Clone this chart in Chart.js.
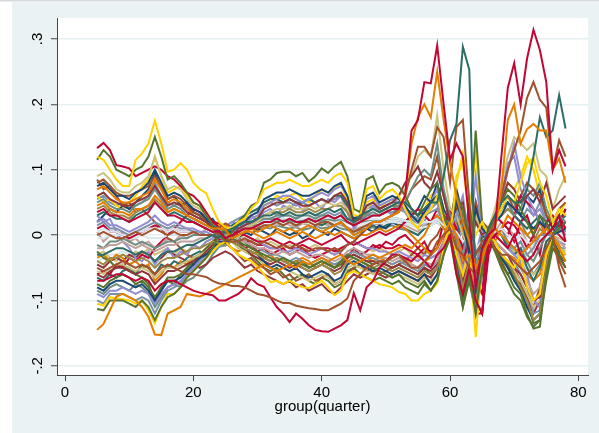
<!DOCTYPE html>
<html><head><meta charset="utf-8">
<script src="https://cdn.jsdelivr.net/npm/chart.js@4.4.0/dist/chart.umd.min.js"></script>
<style>html,body{margin:0;padding:0;background:#fff;overflow:hidden}#wrap{width:599px;height:433px}</style>
</head><body><div id="wrap"><canvas id="c" width="599" height="433"></canvas></div>
<script>
const quarters = [5,6,7,8,9,10,11,12,13,14,15,16,17,18,19,20,21,22,23,24,25,26,27,28,29,30,31,32,33,34,35,36,37,38,39,40,41,42,43,44,45,46,47,48,49,50,51,52,53,54,55,56,57,58,59,60,61,62,63,64,65,66,67,68,69,70,71,72,73,74,75,76,77,78];
const xTickValues = [0,20,40,60,80];
const yTickValues = [-.2,-.1,0,.1,.2,.3];
const yTickLabels = ['-.2','-.1','0','.1','.2','.3'];
const xTitle = 'group(quarter)';

const s01 = [.035,.04,.03,.03,.025,.02,.025,.03,.035,.05, .04,.03,.03,.025,.02,.02,.015,.01,.005,.006, -.005,0,.005,.01,.01,.015,.02,.02,.025,.02, .025,.02,.02,.025,.02,.025,.03,.025,.03,.02, .015,.02,.025,.03,.03,.035,.04,.04,.06,.16, .176,.234,.232,.29,.2,.115,.14,.12,.02,-.08, -.02,0,.01,.12,.225,.263,.2,.27,.314,.283, .234,.1,.13,.105];
const s02 = [.045,.05,.04,.035,.035,.03,.04,.04,.045,.06, .05,.035,.04,.035,.03,.025,.02,.015,.01,.01, .008,-.005,0,.005,.01,.005,.01,.015,.01,.005, .01,.005,.01,.015,.01,.005,.01,.015,.02,.01, 0,.005,.01,.02,.02,.025,.03,.035,.06,.14, .18,.2,.18,.25,.176,.11,.06,.02,-.01,-.05, -.03,-.01,.01,.07,.176,.2,.14,.162,.17,.16, .16,.1,.117,.08];
const s03 = [-.03,-.03,-.025,-.02,-.02,-.025,-.03,-.025,-.03,-.04, -.03,-.025,-.025,-.02,-.015,-.015,-.01,-.005,0,-.004, .005,.01,.015,.02,.02,.025,.03,.03,.035,.03, .035,.03,.03,.035,.03,.035,.04,.035,.04,.025, .02,.03,.035,.04,.035,.04,.045,.05,.05,.04, .03,.04,.05,.05,.09,.145,.17,.288,.253,-.09, -.02,.01,.03,.05,.06,.05,.05,.07,.12,.18, .15,.16,.214,.163];
const s04 = [0,.005,0,-.005,-.005,0,.005,0,.005,.01, .005,0,.005,0,0,.005,0,0,0,.004, -.005,-.01,-.01,-.005,-.01,-.015,-.01,-.015,-.02,-.015, -.02,-.015,-.02,-.025,-.02,-.02,-.025,-.02,-.025,-.015, -.01,0,.01,.02,.02,.025,.03,.04,.06,.1, .135,.135,.12,.165,.15,.08,.165,.176,.05,-.03, -.01,0,.02,.06,.1,.13,.16,.21,.234,.207, .195,.1,.145,.12];
const s05 = [-.05,-.055,-.05,-.045,-.04,-.045,-.05,-.045,-.05,-.06, -.05,-.045,-.05,-.055,-.06,-.06,-.062,-.064,-.07,-.074, -.075,-.078,-.078,-.08,-.085,-.09,-.092,-.095,-.1,-.104, -.104,-.108,-.11,-.112,-.113,-.115,-.115,-.11,-.105,-.097, -.07,-.06,-.05,-.045,-.04,-.04,-.035,-.03,-.04,-.05, -.05,-.04,-.03,-.01,0,.01,-.02,-.03,-.05,-.06, -.03,0,-.02,-.03,-.03,-.04,-.05,-.06,-.05,-.04, -.02,0,-.05,-.08];
const s06 = [-.07,-.07,-.065,-.06,-.06,-.065,-.07,-.065,-.07,-.085, -.075,-.07,-.07,-.075,-.08,-.085,-.088,-.09,-.092,-.1, -.1,-.095,-.09,-.081,-.066,-.075,-.079,-.095,-.11,-.12, -.133,-.12,-.128,-.138,-.145,-.147,-.148,-.143,-.138,-.13, -.089,-.115,-.08,-.07,-.05,-.04,-.03,-.03,-.035,-.04, -.03,-.04,-.05,-.03,-.02,0,-.06,-.09,-.05,-.1, -.12,-.01,0,-.01,-.02,0,-.03,-.04,-.03,-.01, 0,.01,.03,-.01];
const s07 = [-.145,-.136,-.115,-.094,-.09,-.095,-.1,-.11,-.125,-.152, -.153,-.12,-.115,-.11,-.09,-.092,-.094,-.09,-.085,-.08, -.075,-.07,-.065,-.06,-.055,-.05,-.045,-.05,-.055,-.05, -.045,-.05,-.04,-.045,-.04,-.035,-.04,-.035,-.03,-.04, -.045,-.04,-.035,-.03,-.035,-.03,-.025,-.02,-.015,-.02, -.01,-.02,-.03,-.02,0,.02,0,-.04,-.03,-.06, -.04,0,.01,0,-.01,-.02,-.03,-.02,-.01,0, .01,0,-.02,-.04];
const s08 = [.12,.115,.1,.085,.075,.075,.115,.125,.14,.175, .14,.097,.1,.11,.1,.08,.07,.064,.04,.02, .012,.01,.02,.025,.04,.05,.07,.075,.08,.08, .085,.08,.075,.075,.08,.085,.08,.09,.095,.08, .03,.03,.07,.075,.055,.065,.07,.06,.04,.02, .01,.03,.04,.06,.02,0,.08,.125,.06,0, .02,0,.02,.04,.06,.05,.08,.11,.118,.08, .06,.02,.04,.03];
const s09 = [.115,.13,.12,.1,.095,.09,.1,.105,.12,.15, .12,.085,.09,.08,.065,.05,.045,.03,.015,-.002, -.008,.005,.02,.03,.045,.05,.08,.085,.095,.097, .097,.09,.095,.082,.09,.102,.095,.105,.112,.09, .04,.035,.085,.09,.064,.077,.08,.075,.06,.04, .03,.05,.07,.08,.03,.01,.06,.04,0,.16, .02,0,.03,.05,.07,.06,.04,.02,0,.03, .02,0,.01,.02];
const s10 = [-.113,-.115,-.1,-.1,-.1,-.105,-.11,-.1,-.11,-.13, -.11,-.095,-.09,-.08,-.065,-.055,-.045,-.035,-.02,0, .01,-.005,-.01,-.015,-.02,-.025,-.03,-.035,-.04,-.035, -.04,-.045,-.04,-.05,-.045,-.04,-.045,-.05,-.04,-.03, -.035,-.04,-.045,-.05,-.055,-.06,-.065,-.06,-.07,-.075, -.08,-.07,-.085,-.07,-.03,0,-.05,-.11,-.06,-.12, -.05,0,-.02,-.04,-.06,-.08,-.09,-.12,-.143,-.14, -.06,-.01,-.03,-.04];
const s11 = [.075,.08,.07,.06,.06,.055,.065,.07,.08,.1, .08,.06,.065,.06,.05,.04,.035,.025,.015,.005, .004,.005,.015,.02,.03,.035,.055,.06,.065,.065, .07,.065,.06,.06,.065,.07,.065,.075,.08,.06, .025,.03,.06,.065,.05,.055,.06,.055,.045,.03, .02,.035,.05,.06,.02,.01,.05,.02,-.03,.04, .01,0,.02,.03,.05,.04,.03,.02,.01,.02, .01,0,.005,.01];
const s12 = [.06,.065,.055,.05,.045,.045,.05,.055,.06,.075, .06,.045,.05,.045,.035,.03,.025,.02,.01,.005, -.01,-.006,.01,.015,.02,.025,.04,.045,.05,.05, .055,.05,.045,.045,.05,.055,.05,.06,.065,.05, .02,.025,.045,.05,.04,.045,.05,.06,.08,.09, .105,.08,.07,.097,.06,.02,.04,.05,-.02,.02, 0,.01,.03,.05,.08,.07,.05,.06,.07,.05, .08,.04,.05,.06];
const s13 = [.02,.025,.015,.015,.01,.005,.01,.015,.02,.03, .02,.015,.02,.015,.01,.01,.005,.005,0,0, .006,.005,.01,.015,.025,.03,.045,.05,.055,.06, .06,.055,.05,.055,.06,.065,.06,.07,.075,.06, .02,.03,.055,.06,.045,.05,.055,.05,.04,.03, .02,.03,.04,.05,.02,.01,.03,.06,-.01,.09, 0,0,.02,.05,.1,.14,.09,.06,.04,.02, .01,0,.01,.005];
const s14 = [.09,.095,.085,.07,.065,.065,.075,.08,.09,.12, .09,.07,.075,.07,.055,.045,.04,.03,.015,.005, -.006,-.008,-.004,.01,.015,.02,.03,.035,.04,.04, .045,.04,.04,.045,.04,.045,.05,.045,.05,.04, .025,.03,.04,.05,.045,.05,.055,.06,.07,.09, .12,.13,.12,.183,.1,.04,.03,0,-.02,.03, 0,.01,.04,.08,.12,.15,.14,.13,.14,.1, .09,.04,.07,.09];
const s15 = [.05,.055,.045,.04,.04,.035,.045,.05,.055,.07, .055,.04,.045,.04,.03,.025,.02,.015,.01,.005, .005,.01,.015,.02,.02,.02,.025,.025,.03,.03, .03,.025,.03,.03,.025,.03,.03,.025,.03,.02, .015,.02,.03,.035,.03,.035,.04,.045,.05,.07, .09,.1,.09,.14,.07,.03,.02,.04,-.04,.02, 0,.01,.02,.04,.05,.03,.04,.07,.06,.08, .04,.02,.03,.02];
const s16 = [.015,.02,.01,.01,.005,0,.005,.01,.015,.02, .015,.01,.015,.01,.01,.005,.005,0,0,0, .005,.01,.015,.015,.02,.02,.025,.025,.025,.03, .03,.025,.03,.035,.03,.03,.035,.03,.035,.025, .02,.025,.03,.03,.03,.035,.035,.04,.04,.03, .025,.03,.035,.04,.02,.01,0,-.03,.02,-.04, -.02,0,.01,0,-.01,-.02,-.01,-.03,-.02,0, 0,0,.01,0];
const s17 = [-.105,-.108,-.095,-.097,-.098,-.1,-.105,-.1,-.115,-.135, -.11,-.09,-.09,-.08,-.065,-.055,-.045,-.035,-.025,-.015, -.01,-.02,-.03,-.035,-.04,-.048,-.06,-.072,-.07,-.075, -.07,-.075,-.08,-.081,-.075,-.07,-.08,-.092,-.085,-.06, -.055,-.06,-.065,-.07,-.075,-.077,-.08,-.087,-.09,-.1, -.1,-.09,-.085,-.074,-.02,.02,-.03,-.06,-.02,-.156, -.04,0,-.01,-.03,-.04,-.05,-.03,-.08,-.1,-.09, -.03,0,-.02,-.03];
const s18 = [.005,.01,.005,.005,0,0,.005,.005,.01,.01, .01,.005,.01,.005,.005,.005,0,0,0,0, .01,.012,.015,.018,.02,.02,.022,.022,.024,.025, .025,.024,.025,.026,.025,.026,.027,.025,.026,.022, .02,.022,.024,.025,.024,.025,.026,.025,.022,.02, .015,.02,.02,.025,.015,.01,.005,-.01,0,-.02, -.01,0,.005,.01,0,-.005,0,-.01,-.015,-.005, 0,0,.005,0];
const s19 = [-.04,-.045,-.035,-.035,-.03,-.035,-.04,-.035,-.04,-.05, -.04,-.035,-.035,-.03,-.025,-.02,-.02,-.015,-.01,-.012, -.015,-.01,-.015,-.02,-.025,-.03,-.035,-.04,-.035,-.04, -.045,-.04,-.05,-.055,-.05,-.045,-.05,-.06,-.055,-.04, -.035,-.04,-.045,-.05,-.045,-.05,-.055,-.05,-.055,-.06, -.065,-.055,-.06,-.05,-.02,.01,-.03,-.08,-.04,-.1, -.04,0,-.02,-.03,-.04,-.06,-.08,-.1,-.13,-.12, -.05,0,-.02,-.03];
const s20 = [-.02,-.02,-.015,-.015,-.01,-.015,-.02,-.015,-.02,-.025, -.02,-.015,-.015,-.01,-.01,-.01,-.005,-.005,0,.005, .008,-.005,-.01,-.01,-.015,-.02,-.02,-.025,-.03,-.025, -.03,-.025,-.03,-.035,-.03,-.03,-.035,-.04,-.035,-.025, -.02,-.025,-.03,-.03,-.035,-.035,-.04,-.035,-.04,-.045, -.05,-.04,-.045,-.04,-.01,.01,-.02,-.06,-.03,-.08, -.03,0,-.01,-.02,-.03,-.04,-.05,-.07,-.09,-.08, -.03,0,-.01,-.02];
const s21 = [-.08,-.085,-.075,-.07,-.07,-.075,-.08,-.075,-.085,-.1, -.085,-.07,-.07,-.065,-.055,-.045,-.035,-.03,-.02,-.01, -.012,-.01,-.015,-.02,-.025,-.03,-.04,-.05,-.045,-.05, -.055,-.05,-.06,-.065,-.06,-.055,-.06,-.07,-.065,-.045, -.04,-.045,-.05,-.055,-.05,-.055,-.06,-.055,-.06,-.065, -.07,-.06,-.075,-.06,-.025,.005,-.04,-.09,-.05,-.11, -.045,0,-.02,-.035,-.05,-.07,-.085,-.11,-.13,-.12, -.05,-.005,-.03,-.04];
const s22 = [-.06,-.065,-.055,-.05,-.05,-.055,-.06,-.055,-.06,-.075, -.065,-.055,-.055,-.05,-.045,-.04,-.035,-.025,-.015,.002, .006,-.005,-.01,-.02,-.03,-.035,-.04,-.045,-.04,-.045, -.05,-.045,-.05,-.055,-.05,-.045,-.05,-.055,-.05,-.035, -.03,-.035,-.04,-.04,-.045,-.045,-.05,-.045,-.05,-.055, -.06,-.05,-.055,-.045,-.01,.02,-.02,-.07,-.03,-.09, -.03,.005,-.01,-.02,-.03,-.05,-.06,-.08,-.1,-.095, -.04,0,-.02,-.03];
const s23 = [.133,.141,.13,.107,.105,.102,.09,.095,.1,.105, .1,.09,.085,.075,.065,.06,.05,.035,.02,.018, .012,.008,0,0,-.005,-.01,-.01,-.005,-.01,-.015, -.01,-.015,-.01,-.005,-.01,-.015,-.01,-.005,0,-.01, -.015,-.01,-.005,0,.005,0,.005,.01,.02,.03, .04,.03,.02,.04,.02,.03,.01,-.02,0,-.12, -.12,-.03,0,.01,0,.03,.06,.05,.04,.02, .01,.02,.03,.01];
const s24 = [-.09,-.095,-.085,-.085,-.08,-.085,-.09,-.085,-.09,-.105, -.09,-.08,-.075,-.07,-.06,-.05,-.04,-.03,-.02,-.01, -.006,.005,.01,0,-.005,-.01,-.015,-.02,-.02,-.025, -.025,-.02,-.025,-.03,-.025,-.02,-.025,-.03,-.025,-.015, -.01,-.015,-.02,-.02,-.025,-.025,-.03,-.025,-.03,-.035, -.04,-.03,-.035,-.03,-.01,.015,-.02,-.05,-.02,-.07, -.02,.005,0,-.01,-.02,-.03,-.04,-.06,-.1,-.11, -.03,0,-.01,-.015];
const s25 = [-.055,-.06,-.05,-.045,-.045,-.05,-.055,-.05,-.055,-.065, -.055,-.05,-.05,-.045,-.04,-.035,-.03,-.025,-.015,0, .004,-.01,-.02,-.025,-.03,-.035,-.045,-.05,-.055,-.05, -.055,-.06,-.065,-.07,-.065,-.06,-.065,-.075,-.07,-.05, -.045,-.05,-.055,-.06,-.055,-.06,-.065,-.06,-.065,-.07, -.075,-.065,-.07,-.06,-.02,.01,-.03,-.08,-.04,-.1, -.04,0,-.015,-.03,-.04,-.055,-.07,-.09,-.11,-.1, -.04,0,-.02,-.025];
const s26 = [.03,.035,.03,.025,.025,.02,.03,.035,.04,.05, .04,.03,.035,.03,.025,.02,.015,.01,.005,0, .005,.015,.02,.03,.035,.04,.05,.055,.055,.05, .055,.05,.05,.055,.05,.055,.05,.06,.06,.045, .025,.03,.045,.05,.04,.045,.05,.05,.05,.04, .03,.04,.05,.06,.03,.02,.03,-.03,.05,-.08, 0,.01,.03,.04,.05,.03,.02,.01,.02,.03, .01,0,.02,.03];
const s27 = [-.1,-.105,-.09,-.09,-.09,-.095,-.1,-.095,-.1,-.12, -.1,-.085,-.08,-.075,-.06,-.05,-.04,-.03,-.02,-.018, -.016,0,-.005,-.01,-.015,-.02,-.025,-.03,-.03,-.035, -.04,-.035,-.04,-.045,-.04,-.035,-.04,-.045,-.04,-.03, -.025,-.03,-.035,-.035,-.04,-.04,-.045,-.04,-.045,-.05, -.055,-.045,-.05,-.04,-.01,.01,-.03,-.07,-.03,-.09, -.03,0,-.01,-.02,-.03,-.04,-.06,-.08,-.12,-.115, -.04,0,-.02,-.02];
const s28 = [.07,.075,.065,.055,.05,.05,.055,.06,.065,.085, .07,.05,.055,.05,.04,.03,.025,.02,.01,.005, .014,.01,0,.005,.005,0,-.005,0,.005,0, -.005,0,.005,0,-.005,0,.005,0,.005,0, -.005,0,0,.005,.01,.005,.01,.015,.01,0, -.01,0,.02,.03,.01,0,.02,.01,-.02,.03, .01,0,-.01,.01,.03,.02,.01,0,.01,.02, 0,0,.01,0];
const s29 = [-.015,-.02,-.01,-.01,-.005,-.01,-.015,-.01,-.015,-.02, -.015,-.01,-.01,-.005,-.005,0,0,0,0,0, 0,.005,.01,.01,.015,.015,.02,.02,.022,.022, .022,.02,.022,.024,.022,.022,.024,.022,.024,.02, .018,.02,.022,.024,.022,.024,.026,.025,.022,.02, .015,.02,.02,.03,.01,.005,-.01,-.03,.01,-.05, -.02,0,.005,.01,-.01,-.02,-.01,-.03,-.04,-.02, 0,0,.01,0];
const s30 = [.01,.015,.005,.005,0,-.005,0,.005,.01,.015, .01,.005,.01,.005,.005,.005,0,0,0,-.006, -.012,-.005,-.005,-.01,-.01,-.015,-.015,-.02,-.02,-.015, -.02,-.02,-.015,-.02,-.025,-.02,-.02,-.025,-.02,-.015, -.01,-.015,-.02,-.02,-.015,-.02,-.02,-.015,-.02,-.025, -.03,-.02,-.025,-.02,0,.02,.03,0,-.04,-.1, -.12,-.02,0,.01,.02,.015,0,-.02,0,.02, 0,.01,0,-.01];
const s31 = [.08,.085,.075,.065,.06,.06,.065,.07,.075,.09, .075,.055,.06,.055,.045,.035,.03,.02,.01,.012, .018,.012,.005,.005,.01,.01,.015,.015,.02,.015, .02,.015,.02,.02,.015,.02,.02,.015,.02,.01, .005,.01,.015,.02,.02,.025,.03,.035,.05,.07, .08,.09,.085,.12,.06,.02,0,.03,-.03,.05, .02,.01,.03,.05,.06,.04,.06,.08,.07,.06, .03,.02,.04,.05];
const s32 = [.04,.045,.035,.03,.03,.025,.035,.04,.045,.055, .045,.035,.04,.035,.03,.025,.02,.015,.01,.005, -.003,.005,.005,.01,.015,.02,.03,.035,.035,.035, .04,.035,.035,.04,.035,.04,.04,.045,.045,.035, .015,.02,.035,.04,.035,.04,.045,.045,.04,.035, .03,.04,.05,.06,.03,.02,.03,0,.03,-.05, 0,.01,.02,.03,.04,.03,.02,0,-.01,.01, 0,0,.01,.02];
const s33 = [-.005,-.005,0,0,0,-.005,-.005,0,-.005,-.005, -.005,0,0,0,0,0,0,0,0,0, .008,.01,.012,.014,.015,.016,.016,.017,.018,.018, .018,.018,.019,.02,.019,.02,.02,.019,.02,.018, .016,.017,.018,.019,.018,.019,.02,.019,.017,.015, .01,.012,.015,.02,.01,.005,0,-.01,.005,-.02, -.01,0,0,.005,0,-.005,-.005,-.01,-.02,-.01, 0,0,0,-.005];
const s34 = [-.075,-.08,-.07,-.065,-.06,-.065,-.075,-.07,-.08,-.095, -.08,-.065,-.065,-.06,-.05,-.04,-.03,-.02,-.01,0, -.005,0,-.005,-.01,-.02,-.025,-.035,-.04,-.035,-.04, -.045,-.04,-.045,-.05,-.045,-.04,-.045,-.05,-.045,-.035, -.03,-.035,-.04,-.045,-.04,-.045,-.05,-.045,-.05,-.055, -.06,-.05,-.06,-.05,-.015,.01,-.04,-.1,-.05,-.11, -.045,0,-.015,-.03,-.045,-.065,-.08,-.1,-.135,-.13, -.05,-.005,-.025,-.03];
const s35 = [-.06,-.055,-.06,-.045,-.05,-.035,-.04,-.03,-.035,-.02, -.01,0,.01,.02,.03,.04,.035,.03,.02,.012, .005,-.005,-.01,-.02,-.015,-.025,-.02,-.03,-.025,-.02, -.03,-.025,-.02,-.03,-.035,-.03,-.025,-.02,-.03,-.035, -.02,-.03,-.025,-.015,-.02,-.01,-.015,-.005,0,-.01, -.02,-.01,-.03,-.02,.02,.04,.01,-.05,.02,-.07, -.09,.01,.03,.02,.01,-.01,.02,.03,0,-.03, .02,.03,.01,.04];
const s36 = [.03,.02,.025,.005,-.01,-.02,-.035,-.04,-.025,-.045, -.03,-.02,-.035,-.025,-.03,-.015,-.02,-.01,-.005,.004, .012,.02,.015,.025,.03,.022,.035,.04,.03,.045, .04,.05,.038,.045,.05,.04,.055,.05,.06,.035, .01,.02,.03,.045,.035,.04,.03,.045,.035,.02, .01,.02,.05,.07,.03,.005,.02,0,.035,-.03, .01,-.01,.02,.06,.11,.12,.07,.05,.03,.04, .02,-.01,.02,.01];
const s37 = [.085,.07,.075,.06,.045,.05,.035,.04,.03,.02, .01,-.005,-.01,-.02,-.03,-.035,-.03,-.025,-.02,-.015, -.01,-.02,-.03,-.04,-.035,-.045,-.05,-.06,-.055,-.065, -.06,-.07,-.065,-.06,-.07,-.065,-.06,-.075,-.07,-.06, -.05,-.045,-.055,-.05,-.06,-.055,-.05,-.045,-.04,-.03, -.02,-.03,-.01,0,.02,.03,0,-.04,-.01,-.07, -.03,0,-.02,-.045,-.06,-.05,-.07,-.09,-.11,-.08, -.03,-.01,-.04,-.06];
const s38 = [.02,.03,.04,.035,.045,.04,.05,.06,.07,.095, .07,.055,.06,.045,.05,.035,.03,.02,.025,.01, .006,0,-.005,.005,0,.01,.005,0,.01,.005, 0,.005,-.005,0,.01,.005,0,.01,.005,0, -.005,0,.01,.005,.015,.01,.02,.015,.02,.03, .04,.06,.05,.08,.04,.02,.07,.03,-.01,.05, 0,-.01,.02,.04,.06,.05,.03,.06,.05,.07, .03,.01,.02,.04];
const s39 = [-.025,-.035,-.04,-.05,-.045,-.055,-.06,-.065,-.075,-.1, -.08,-.07,-.075,-.06,-.05,-.04,-.035,-.025,-.02,-.01, -.002,-.01,-.015,-.025,-.03,-.04,-.05,-.055,-.05,-.06, -.07,-.065,-.06,-.07,-.075,-.065,-.07,-.08,-.075,-.055, -.05,-.06,-.065,-.07,-.065,-.07,-.075,-.07,-.08,-.085, -.09,-.075,-.085,-.07,-.03,-.005,-.06,-.11,-.07,-.12, -.06,-.005,-.025,-.05,-.07,-.09,-.1,-.125,-.14,-.13, -.07,-.02,-.035,-.05];
const s40 = [.06,.05,.055,.045,.04,.05,.06,.075,.085,.12, .09,.065,.07,.075,.06,.05,.045,.035,.02,.015, .01,.005,.01,.02,.03,.025,.045,.05,.06,.055, .06,.065,.055,.05,.06,.07,.065,.07,.08,.05, .02,.025,.05,.055,.04,.05,.055,.05,.045,.03, .02,.04,.06,.07,.03,0,.09,.11,.02,.13, .01,0,.03,.05,.08,.07,.09,.12,.1,.06, .04,.01,.03,.05];
const s41 = [-.065,-.07,-.06,-.065,-.055,-.05,-.06,-.045,-.05,-.06, -.045,-.05,-.04,-.045,-.035,-.03,-.025,-.03,-.02,-.012, -.008,0,.005,.01,.02,.015,.02,.025,.02,.025, .02,.015,.02,.025,.02,.015,.02,.015,.02,.01, 0,.005,.01,.015,.01,.015,.02,.015,.01,.005, 0,.01,.02,.03,.015,.01,0,-.04,0,-.06, -.03,0,.01,0,-.02,-.03,-.02,-.05,-.07,-.05, -.01,0,.02,.01];
const s42 = [-.035,-.03,-.04,-.03,-.035,-.045,-.04,-.05,-.045,-.07, -.06,-.045,-.05,-.04,-.045,-.035,-.03,-.02,-.015,-.008, -.012,-.02,-.025,-.02,-.03,-.025,-.035,-.03,-.04,-.035, -.045,-.04,-.035,-.04,-.05,-.045,-.04,-.05,-.045,-.03, -.025,-.03,-.035,-.04,-.035,-.04,-.045,-.04,-.035,-.045, -.05,-.04,-.035,-.03,-.01,.02,-.01,-.05,-.02,-.08, -.03,0,-.01,-.02,-.03,-.035,-.045,-.06,-.07,-.06, -.02,0,-.015,-.03];
const s43 = [.055,.06,.05,.045,.05,.04,.045,.05,.06,.08, .06,.05,.045,.05,.04,.035,.03,.022,.015,.012, .014,.02,.025,.03,.035,.04,.045,.05,.045,.05, .05,.045,.05,.045,.05,.055,.05,.055,.06,.04, .02,.025,.04,.045,.035,.04,.045,.04,.035,.025, .015,.03,.04,.05,.02,.01,.04,.01,-.02,.03, 0,0,.02,.03,.04,.03,.02,.04,.03,.05, .02,0,.01,.02];
const s44 = [-.045,-.05,-.04,-.035,-.04,-.03,-.035,-.025,-.03,-.04, -.035,-.025,-.03,-.035,-.04,-.045,-.05,-.045,-.035,-.03, -.025,-.03,-.04,-.05,-.045,-.055,-.06,-.065,-.07,-.075, -.07,-.08,-.075,-.085,-.08,-.075,-.085,-.09,-.08,-.07, -.06,-.065,-.06,-.055,-.06,-.065,-.06,-.055,-.06,-.065, -.07,-.06,-.065,-.05,-.02,0,-.04,-.08,-.045,-.1, -.05,0,-.02,-.035,-.05,-.065,-.075,-.095,-.12,-.1, -.045,0,-.03,-.05];
const s45 = [.005,-.01,0,-.005,.005,-.01,-.005,-.015,-.01,-.02, -.015,-.005,-.01,0,-.005,.005,0,.01,.005,.002, -.004,.005,.01,.005,.012,.015,.01,.018,.015,.02, .015,.012,.018,.015,.01,.018,.015,.02,.015,.012, .008,.012,.015,.018,.015,.02,.018,.02,.015,.01, .005,.015,.02,.025,.01,.005,.01,-.02,.01,-.03, -.01,0,.005,.02,.01,0,.01,-.01,-.03,-.01, 0,0,.01,.005];
const s46 = [-.03,-.025,-.035,-.04,-.03,-.035,-.025,-.03,-.02,-.03, -.025,-.02,-.03,-.02,-.025,-.015,-.02,-.01,-.005,.006, .01,.005,0,-.005,-.01,-.005,-.015,-.01,-.015,-.02, -.015,-.02,-.025,-.02,-.015,-.02,-.025,-.03,-.02,-.015, -.01,-.015,-.02,-.025,-.02,-.025,-.03,-.025,-.02,-.03, -.035,-.025,-.03,-.02,0,.015,-.01,-.04,-.01,-.06, -.02,.005,0,-.01,-.02,-.025,-.035,-.05,-.06,-.05, -.02,0,-.005,-.01];
const s47 = [-.04,-.035,-.03,-.03,-.025,-.03,-.035,-.03,-.035,-.045, -.035,-.03,-.025,-.02,-.015,-.01,-.008,-.005,0,.004, .008,.012,.014,.016,.018,.02,.021,.022,.023,.024, .024,.023,.024,.025,.024,.025,.026,.024,.025,.02, .018,.02,.022,.023,.022,.023,.024,.023,.02,.018, .012,.018,.02,.022,.012,.008,.002,-.015,0,-.025, -.012,0,.005,.008,-.002,-.008,-.004,-.015,-.02,-.008, 0,0,.004,0];
const s48 = [-.085,-.09,-.08,-.075,-.08,-.085,-.075,-.08,-.09,-.11, -.095,-.08,-.075,-.08,-.07,-.065,-.055,-.045,-.03,-.018, -.01,-.005,0,.005,.01,.008,.012,.01,.015,.012, .01,.012,.008,.01,.014,.01,.012,.015,.01,.008, .005,.008,.01,.012,.01,.012,.015,.01,.008,.005, 0,.01,.015,.02,.01,.005,-.005,-.035,.005,-.05, -.02,0,.005,0,-.015,-.025,-.02,-.04,-.06,-.045, -.01,0,.015,.005];

const seriesList = [s01,s02,s03,s04,s05,s06,s07,s08,s09,s10,s11,s12,s13,s14,s15,s16,s17,s18,s19,s20,s21,s22,s23,s24,s25,s26,s27,s28,s29,s30,s31,s32,s33,s34,s35,s36,s37,s38,s39,s40,s41,s42,s43,s44,s45,s46,s47,s48];
const seriesColors = ['#C10534','#E37E00','#2D6D66','#A0522D','#A0522D','#C10534','#E37E00','#FFD200','#55752F','#55752F','#1A476F','#90353B','#938DD2','#CAC27E','#6E8E84','#7B92A8','#FFD200','#D9E6EB','#9C8847','#BFA19C','#1A476F','#90353B','#C10534','#938DD2','#CAC27E','#2D6D66','#7B92A8','#E37E00','#6E8E84','#C10534','#A0522D','#9C8847','#D9E6EB','#55752F','#C10534','#938DD2','#A0522D','#1A476F','#55752F','#FFD200','#2D6D66','#E37E00','#7B92A8','#90353B','#BFA19C','#CAC27E','#D9E6EB','#6E8E84'];

const FONT = "'Liberation Sans', Arial, Helvetica, sans-serif";

const bgPlugin = {
  id: 'bg',
  beforeDraw(chart) {
    const {ctx, chartArea: a} = chart;
    ctx.save();
    ctx.fillStyle = '#ffffff';
    ctx.fillRect(0, 0, chart.width, chart.height);
    ctx.fillStyle = '#EAF2F3';
    ctx.fillRect(12, 2, chart.width - 12, chart.height - 2);
    ctx.fillStyle = '#D5DADB';
    ctx.fillRect(0, 0, chart.width, 1.5);
    ctx.fillStyle = '#ffffff';
    ctx.fillRect(a.left, a.top, a.right - a.left, a.bottom - a.top);
    ctx.restore();
  }
};

const datasets = seriesList.map((s, i) => ({
  data: quarters.map((q, j) => ({x: q, y: s[j]})),
  borderColor: seriesColors[i],
  borderWidth: 2,
  pointRadius: 0,
  fill: false,
  tension: 0
}));

new Chart(document.getElementById('c'), {
  type: 'line',
  data: { datasets },
  plugins: [bgPlugin],
  options: {
    responsive: false,
    animation: false,
    devicePixelRatio: 1,
    layout: { padding: { left: 12, right: 11, top: 18, bottom: 17 } },
    plugins: { legend: { display: false }, tooltip: { enabled: false } },
    scales: {
      x: {
        type: 'linear', min: -1.25, max: 81.5,
        afterBuildTicks: s => { s.ticks = xTickValues.map(v => ({value: v})); },
        afterFit: s => { s.height = 41; },
        grid: { display: true, drawOnChartArea: false, drawTicks: true, tickLength: 6, tickColor: '#444', tickWidth: 1 },
        border: { display: true, color: '#444', width: 1 },
        ticks: { color: '#000', font: { family: FONT, size: 15 }, padding: 3, maxRotation: 0, autoSkip: false, callback: v => String(v) },
        title: { display: true, text: xTitle, color: '#000', font: { family: FONT, size: 15 }, padding: { top: 0, bottom: 0 } }
      },
      y: {
        type: 'linear', min: -0.214, max: 0.332,
        afterBuildTicks: s => { s.ticks = yTickValues.map(v => ({value: v})); },
        afterFit: s => { s.width = 45; },
        grid: { display: true, color: '#E6EFF1', lineWidth: 1.5, drawTicks: true, tickLength: 6, tickColor: '#444', tickWidth: 1 },
        border: { display: true, color: '#444', width: 1 },
        ticks: { color: '#000', font: { family: FONT, size: 15 }, padding: 4, minRotation: 90, maxRotation: 90, autoSkip: false, crossAlign: 'center',
          callback: v => { const i = yTickValues.findIndex(t => Math.abs(t - v) < 1e-9); return i >= 0 ? yTickLabels[i] : ''; } }
      }
    }
  }
});
</script></body></html>
